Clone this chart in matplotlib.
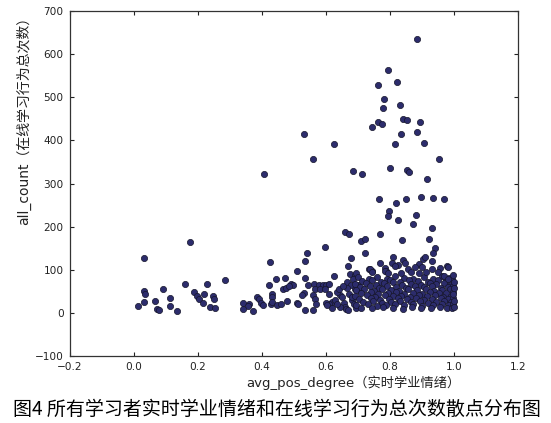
import matplotlib
matplotlib.use('Agg')
import matplotlib.pyplot as plt

# sparse points (high values and the left part)
sparse_x = [0.886, 0.794, 0.821, 0.7625, 0.782, 0.830, 0.778, 0.842, 0.854, 0.894,
            0.7625, 0.776, 0.744, 0.886, 0.834, 0.532, 0.817, 0.907, 0.624, 0.559,
            0.952, 0.800, 0.683, 0.852, 0.861, 0.7125, 0.407, 0.917, 0.765, 0.849,
            0.898, 0.935, 0.969, 0.818, 0.797, 0.794, 0.880, 0.826, 0.873, 0.930,
            0.660, 0.673, 0.769, 0.922, 0.838, 0.710, 0.723, 0.174, 0.941, 0.596,
            0.933, 0.540, 0.723, 0.904, 0.909, 0.030, 0.679, 0.808, 0.932, 0.424,
            0.535, 0.769, 0.805, 0.842, 0.847, 0.826, 0.816, 0.668, 0.978, 0.982,
            0.891, 0.899, 0.855, 0.878, 0.932, 0.957, 0.733, 0.744, 0.786, 0.789,
            0.508]
sparse_y = [635, 563, 536, 528, 497, 482, 475, 449, 447, 442,
            442, 439, 430, 420, 416, 414, 392, 393, 391, 356,
            357, 337, 329, 331, 326, 323, 323, 310, 265, 264,
            269, 266, 264, 254, 237, 225, 228, 215, 207, 198,
            187, 184, 182, 171, 169, 168, 171, 164, 151, 153,
            138, 138, 138, 126, 130, 128, 128, 130, 121, 118,
            121, 117, 117, 123, 115, 111, 109, 109, 109, 107,
            113, 107, 103, 107, 103, 104, 101, 98, 105, 97,
            97]

low_x = [0.0115, 0.030, 0.031, 0.035, 0.067, 0.073, 0.078, 0.090, 0.1125, 0.1125,
         0.134, 0.158, 0.189, 0.197, 0.204, 0.215, 0.218, 0.227, 0.2365, 0.247,
         0.249, 0.254, 0.285, 0.340, 0.360, 0.357, 0.342, 0.373, 0.383, 0.392,
         0.398, 0.404, 0.423, 0.430, 0.432, 0.428, 0.430, 0.446, 0.458, 0.445,
         0.471, 0.467, 0.475, 0.477, 0.490, 0.498, 0.485, 0.508, 0.512, 0.532,
         0.526, 0.536, 0.534, 0.561, 0.560, 0.566, 0.570, 0.544, 0.564, 0.578,
         0.591, 0.600, 0.609, 0.565, 0.580, 0.598, 0.626, 0.610, 0.618, 0.610,
         0.645, 0.650, 0.635, 0.600, 0.603, 0.655, 0.658, 0.662, 0.670, 0.675,
         0.690, 0.683, 0.667, 0.678, 0.700, 0.665, 0.690, 0.705, 0.694, 0.640,
         0.652, 0.672, 0.680, 0.688, 0.645, 0.695, 0.680, 0.620, 0.628, 0.636]
low_y = [16, 25, 50, 43, 29, 9, 8, 55, 34, 17,
         4, 68, 48, 39, 32, 23, 44, 67, 14, 39,
         32, 11, 76, 24, 22, 16, 10, 5, 37, 32,
         23, 18, 64, 45, 37, 20, 25, 18, 22, 80,
         81, 55, 58, 28, 68, 64, 62, 24, 20, 47,
         41, 82, 7, 7, 41, 33, 22, 66, 67, 64,
         66, 65, 67, 56, 55, 56, 86, 45, 26, 22,
         41, 37, 48, 24, 18, 24, 15, 10, 8, 91,
         89, 80, 73, 66, 65, 58, 55, 50, 92, 55,
         62, 45, 30, 20, 15, 12, 38, 12, 30, 20]

# dense block between 0.69 and 1.0
cluster_x = [0.700, 0.735, 0.760, 0.790, 0.815, 0.845, 0.872, 0.905, 0.935, 0.962, 0.985,
             0.712, 0.745, 0.772, 0.800, 0.830, 0.858, 0.888, 0.918, 0.950, 0.975, 0.995,
             0.690, 0.725, 0.755, 0.780, 0.810, 0.838, 0.867, 0.896, 0.925, 0.944, 0.968, 0.990,
             0.705, 0.738, 0.765, 0.790, 0.820, 0.850, 0.878, 0.905, 0.930, 0.958, 0.980, 0.997,
             0.695, 0.720, 0.750, 0.775, 0.803, 0.828, 0.857, 0.884, 0.912, 0.938, 0.963, 0.988,
             0.710, 0.740, 0.762, 0.795, 0.818, 0.845, 0.873, 0.900, 0.924, 0.952, 0.976, 0.996,
             0.690, 0.728, 0.752, 0.783, 0.808, 0.835, 0.862, 0.892, 0.916, 0.942, 0.967, 0.990,
             0.702, 0.742, 0.770, 0.798, 0.825, 0.852, 0.880, 0.905, 0.930, 0.958, 0.982, 0.998,
             0.715, 0.748, 0.775, 0.802, 0.830, 0.866, 0.895, 0.920, 0.945, 0.970, 0.992,
             0.695, 0.730, 0.760, 0.788, 0.815, 0.843, 0.872, 0.900, 0.935, 0.962, 0.985, 0.997,
             0.710, 0.745, 0.778, 0.810, 0.840, 0.870, 0.898, 0.928, 0.955, 0.978, 0.994,
             0.999, 1.000, 0.998, 1.000, 0.999, 0.738, 0.743, 0.786, 0.795, 0.836, 0.865,
             0.891, 0.914, 0.951, 0.998, 0.970, 0.980]
cluster_y = [84, 80, 83, 79, 85, 81, 78, 83, 80, 86, 82,
             74, 77, 72, 76, 73, 77, 75, 72, 76, 74, 78,
             67, 70, 66, 69, 71, 66, 68, 64, 70, 67, 69, 66,
             60, 62, 59, 63, 60, 58, 62, 60, 63, 59, 61, 62,
             53, 55, 52, 56, 54, 51, 55, 53, 56, 52, 54, 55,
             46, 48, 45, 47, 49, 45, 47, 44, 48, 46, 47, 49,
             39, 41, 38, 42, 39, 40, 37, 41, 39, 42, 38, 40,
             32, 34, 31, 33, 35, 32, 34, 31, 33, 35, 32, 34,
             25, 27, 24, 26, 28, 25, 27, 24, 26, 27, 25,
             18, 20, 17, 19, 21, 18, 20, 17, 19, 21, 18, 20,
             12, 11, 13, 12, 10, 13, 12, 11, 13, 12, 11,
             14, 28, 45, 58, 72, 101, 95, 98, 92, 93, 95,
             93, 95, 95, 88, 85, 79]

xs = sparse_x + low_x + cluster_x
ys = sparse_y + low_y + cluster_y

fig = plt.figure(figsize=(5.51, 4.23), dpi=100)
ax = fig.add_axes([0.127, 0.158, 0.813, 0.816])

ax.scatter(xs, ys, s=20, facecolor='#2c2c6c', edgecolor='#15152a', linewidth=0.5, zorder=3)

ax.set_xlim(-0.2, 1.2)
ax.set_ylim(-100, 700)
ax.set_xticks([-0.2, 0.0, 0.2, 0.4, 0.6, 0.8, 1.0, 1.2])
ax.set_xticklabels(['\u22120.2', '0.0', '0.2', '0.4', '0.6', '0.8', '1.0', '1.2'])
ax.set_yticks(range(-100, 701, 100))
ax.set_yticklabels(['\u2212100'] + [str(v) for v in range(0, 701, 100)])
ax.tick_params(direction='in', length=3, width=0.8, top=True, right=True,
               labelsize=7.6, colors='#222222', pad=4.5)
for sp in ax.spines.values():
    sp.set_linewidth(0.9)
    sp.set_color('#333333')

lab_fonts = ['DejaVu Sans', 'Noto Sans CJK SC']
fig.text(246 / 551, 1 - 383 / 423, 'avg_pos_degree（实时学业情绪）', family=lab_fonts,
         fontsize=9.5, ha='left', va='center', color='#222222')
fig.text(23 / 551, 1 - 10 / 423, 'all_count（在线学习行为总次数）', family=lab_fonts,
         fontsize=10, rotation=90, ha='center', va='top', color='#222222')
fig.text(0.502, 1 - 409 / 423, '图4 所有学习者实时学业情绪和在线学习行为总次数散点分布图',
         family=['Noto Sans CJK SC', 'DejaVu Sans'], fontsize=13.7, ha='center', va='center',
         color='black')

fig.savefig('out.png', dpi=100)
